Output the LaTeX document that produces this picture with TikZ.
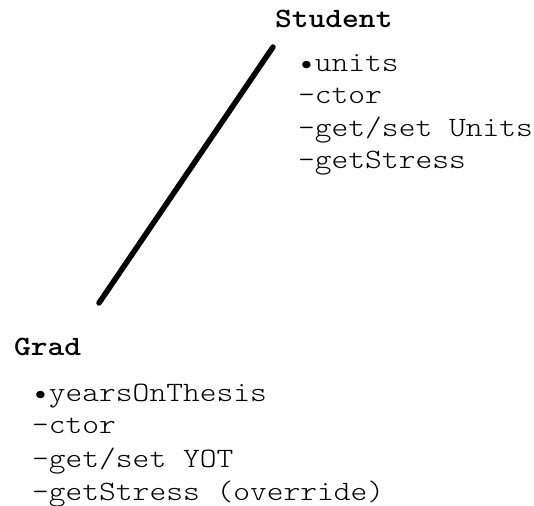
\documentclass[tikz,border=0pt]{standalone}
\usepackage{fontspec}
\newfontfamily\courfont{Latin Modern Mono Light}[FakeStretch=1.14]
\begin{document}
\begin{tikzpicture}[x=1pt,y=1pt,
  txt/.style={anchor=base west,inner sep=0pt,font=\courfont\fontsize{28}{32}\selectfont},
  ttl/.style={txt,font=\courfont\bfseries\fontsize{28}{32}\selectfont},
  link/.style={line width=5.5pt,line cap=round}]
\useasboundingbox (0,0) rectangle (534,505);
% Student (y measured from top: 505 - y)
\node[ttl] (student) at (275,505-28) {Student};
\node[txt] (s1) at (298,505-72) {•units};
\node[txt] (s2) at (298,505-104) {-ctor};
\node[txt] (s3) at (298,505-137) {-get/set Units};
\node[txt] (s4) at (298,505-169) {-getStress};
% Grad
\node[ttl] (grad) at (14,505-356) {Grad};
\node[txt] (g1) at (32,505-402) {•yearsOnThesis};
\node[txt] (g2) at (32,505-434) {-ctor};
\node[txt] (g3) at (32,505-467) {-get/set YOT};
\node[txt] (g4) at (32,505-500) {-getStress (override)};
% inheritance line
\coordinate (top) at (273,505-47);
\coordinate (bot) at (99,505-303);
\draw[link] (top) -- (bot);
\end{tikzpicture}
\end{document}
